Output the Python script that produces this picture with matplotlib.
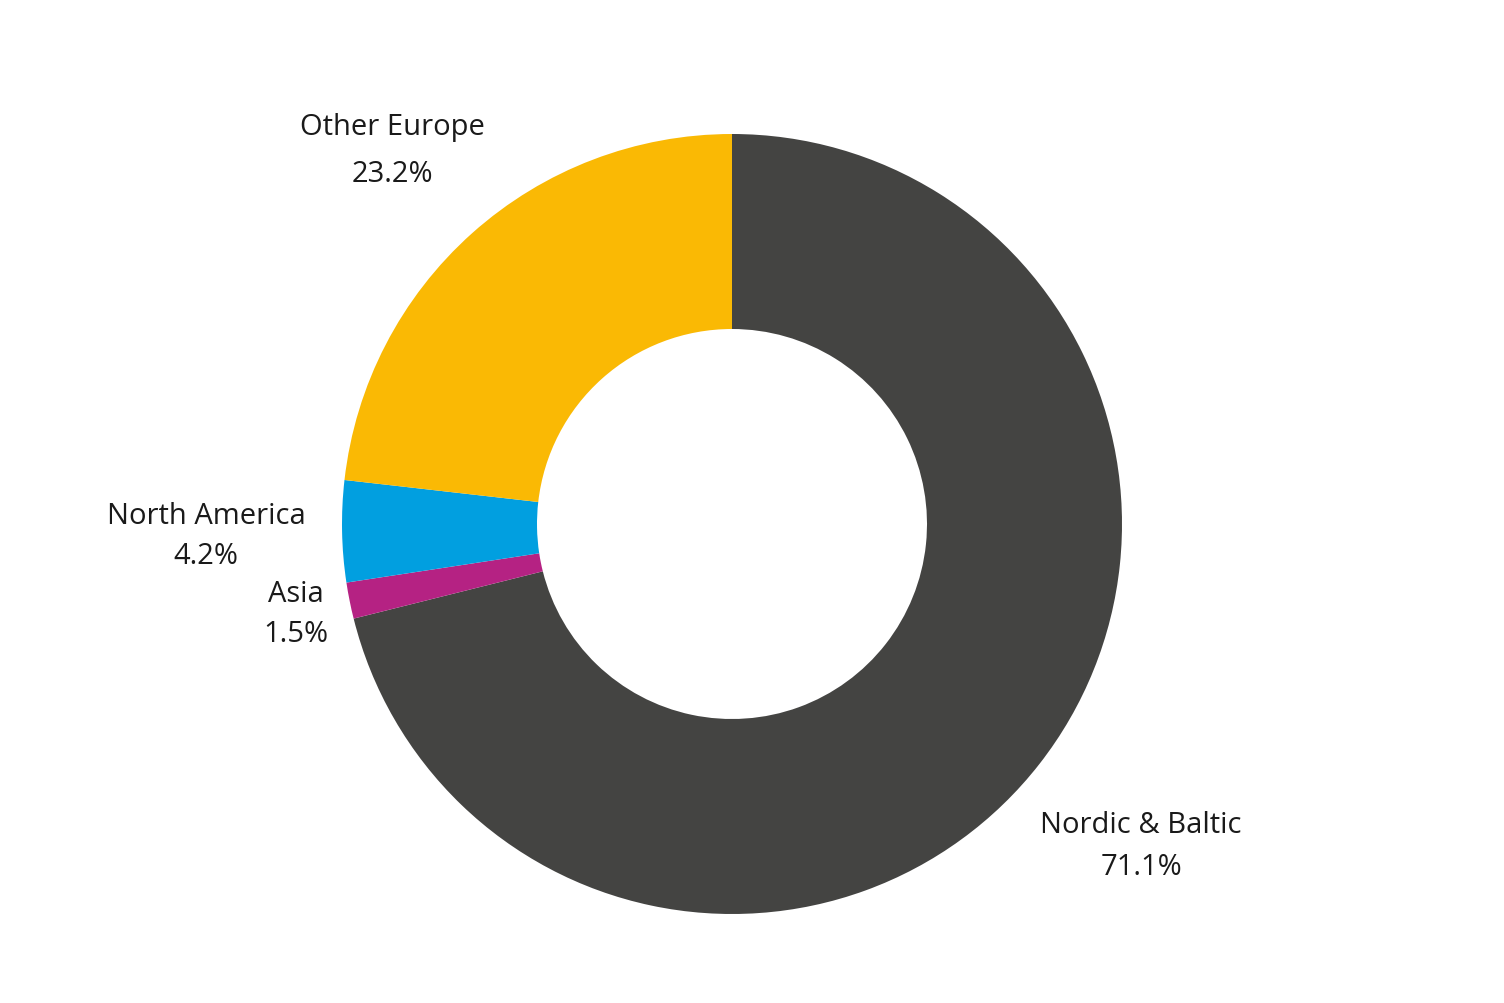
import matplotlib
matplotlib.use("Agg")
import matplotlib.pyplot as plt

categories = ["Nordic & Baltic", "Asia", "North America", "Other Europe"]
values = [71.1, 1.5, 4.2, 23.2]
colors = ["#444442", "#B52283", "#019FE0", "#FAB904"]

# label anchor positions in pixels (x, name line y, value line y)
label_px = [(1141, 826, 868), (296, 594, 634), (206, 517, 557), (392, 128, 174)]

W, H = 1504, 1004
cx, cy, R = 732, 525, 390
fig = plt.figure(figsize=(W/100, H/100), dpi=100)
ax = fig.add_axes([0, 0, 1, 1])

ax.pie(values, colors=colors, startangle=90, counterclock=False, radius=1,
       wedgeprops=dict(width=0.5, edgecolor="none"))
ax.set_aspect("auto")
ax.set_xlim(-cx/R, (W-cx)/R)
ax.set_ylim(-(H-cy)/R, cy/R)
ax.axis("off")

def tod(px, py):
    return (px-cx)/R, (cy-py)/R

for cat, v, (px, y1, y2) in zip(categories, values, label_px):
    ax.text(*tod(px, y1), cat, ha="center", va="center", fontsize=21,
            family="Open Sans", color="#1a1a1a")
    ax.text(*tod(px, y2), f"{v:.1f}%", ha="center", va="center", fontsize=21,
            family="Open Sans", color="#1a1a1a")

fig.savefig("out.png", dpi=100)
